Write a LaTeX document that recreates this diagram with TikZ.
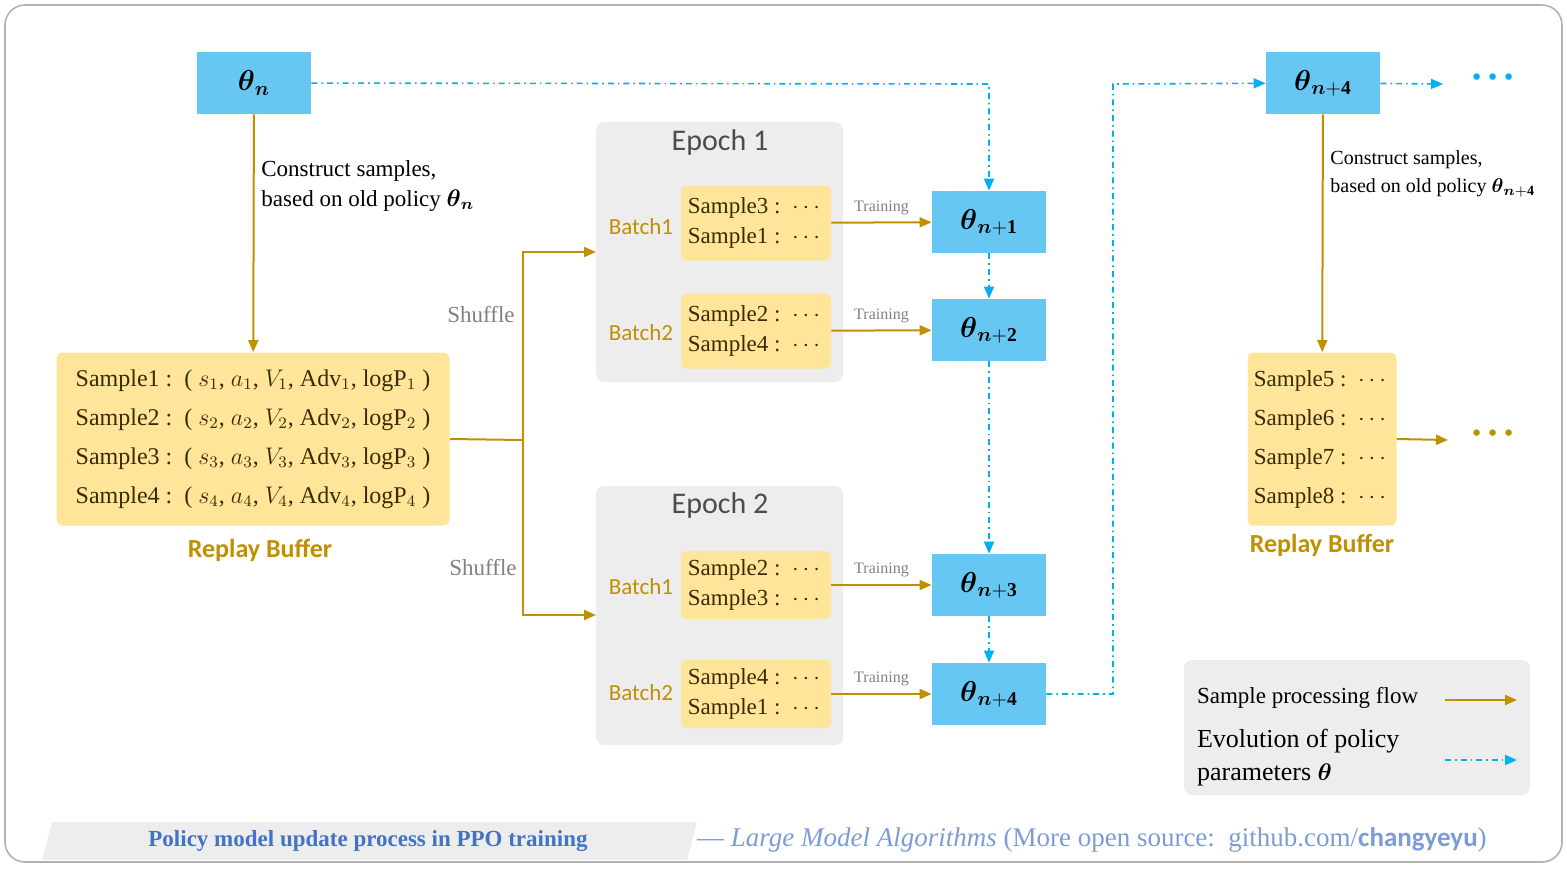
\documentclass[tikz,border=0pt]{standalone}
\usepackage{amsmath}
\usepackage{amssymb}
\usepackage{fontspec}
\setmainfont{Liberation Serif}
\newfontfamily\sansf{Carlito}
\usetikzlibrary{arrows.meta}
\definecolor{thetablue}{RGB}{102,199,242}
\definecolor{flowblue}{RGB}{0,176,240}
\definecolor{bufyellow}{RGB}{255,229,153}
\definecolor{gold}{RGB}{191,144,0}
\definecolor{boxgrey}{RGB}{237,237,237}
\definecolor{linkblue}{RGB}{68,114,196}
\newcommand{\bigdots}{{\boldmath\fontsize{22}{22}\selectfont$\cdot\!\cdot\!\cdot$}}
\begin{document}
\begin{tikzpicture}[%
      x=0.5pt, y=-0.5pt,
      theta/.style={fill=thetablue, inner sep=0pt, minimum width=57pt, minimum height=31pt, font=\fontsize{14}{14}\selectfont},
      samp/.style={fill=bufyellow, rounded corners=3pt, inner sep=0pt},
      epoch/.style={fill=boxgrey, rounded corners=4pt},
      flow/.style={gold, line width=1pt, -{Triangle[length=6pt,width=5pt]}},
      evo/.style={flowblue, line width=0.8pt, dash dot, -{Triangle[length=6pt,width=5pt]}},
      lbl/.style={font=\sansf\fontsize{11.5}{13}\selectfont, text=gold},
      train/.style={font=\fontsize{8}{9}\selectfont, text=gray},
      ]
      \useasboundingbox (0,0) rectangle (1567,868);
      \draw [gray!60, line width=0.8pt, rounded corners=10pt] (5,5) rectangle (1562,862);

      % grey epoch boxes and legend
      \fill [epoch] (596,122) rectangle (843,382);
      \fill [epoch] (596,486) rectangle (843,745);
      \fill [epoch] (1184,660) rectangle (1530,795);
      \node [font=\sansf\fontsize{15}{15}\selectfont, text=black!70] (ep1) at (720,142) {Epoch 1};
      \node [font=\sansf\fontsize{15}{15}\selectfont, text=black!70] (ep2) at (720,505) {Epoch 2};

      % parameter nodes
      \node [theta] (t0) at (254,83) {$\boldsymbol{\theta}_{\boldsymbol{n}}$};
      \node [theta] (t1) at (989,222) {$\boldsymbol{\theta}_{\boldsymbol{n}\mathbf{+1}}$};
      \node [theta] (t2) at (989,330) {$\boldsymbol{\theta}_{\boldsymbol{n}\mathbf{+2}}$};
      \node [theta] (t3) at (989,585) {$\boldsymbol{\theta}_{\boldsymbol{n}\mathbf{+3}}$};
      \node [theta] (t4) at (989,694) {$\boldsymbol{\theta}_{\boldsymbol{n}\mathbf{+4}}$};
      \node [theta] (t5) at (1323,83) {$\boldsymbol{\theta}_{\boldsymbol{n}\mathbf{+4}}$};

      % replay buffers
      \node [samp, minimum width=196.5pt, minimum height=86.5pt, align=left,
             font=\fontsize{12}{19.5}\selectfont, text=black!70!gold] (rb) at (253,439)
        {Sample1 :\ \ ( $s_1$, $a_1$, $V_1$, Adv$_1$, logP$_1$ )\\
         Sample2 :\ \ ( $s_2$, $a_2$, $V_2$, Adv$_2$, logP$_2$ )\\
         Sample3 :\ \ ( $s_3$, $a_3$, $V_3$, Adv$_3$, logP$_3$ )\\
         Sample4 :\ \ ( $s_4$, $a_4$, $V_4$, Adv$_4$, logP$_4$ )};
      \node [lbl, font=\sansf\bfseries\fontsize{13}{13}\selectfont] (rbl) at (260,550) {Replay Buffer};
      \node [samp, minimum width=74.5pt, minimum height=86.5pt, align=left,
             font=\fontsize{11.5}{19.5}\selectfont, text=black!70!gold] (rc) at (1322,439)
        {Sample5 :\ \ $\cdots$\\ Sample6 :\ \ $\cdots$\\ Sample7 :\ \ $\cdots$\\ Sample8 :\ \ $\cdots$};
      \node [lbl, font=\sansf\bfseries\fontsize{13}{13}\selectfont] (rcl) at (1322,545) {Replay Buffer};

      % batches
      \node [samp, minimum width=75pt, minimum height=37.5pt, align=left,
             font=\fontsize{11.5}{15}\selectfont, text=black!70!gold] (b11) at (756,223)
        {Sample3 :\ \ $\cdots$\\ Sample1 :\ \ $\cdots$};
      \node [samp, minimum width=75pt, minimum height=37.5pt, align=left,
             font=\fontsize{11.5}{15}\selectfont, text=black!70!gold] (b12) at (756,331)
        {Sample2 :\ \ $\cdots$\\ Sample4 :\ \ $\cdots$};
      \node [samp, minimum width=75pt, minimum height=34pt, align=left,
             font=\fontsize{11.5}{15}\selectfont, text=black!70!gold] (b21) at (756,585)
        {Sample2 :\ \ $\cdots$\\ Sample3 :\ \ $\cdots$};
      \node [samp, minimum width=75pt, minimum height=34pt, align=left,
             font=\fontsize{11.5}{15}\selectfont, text=black!70!gold] (b22) at (756,694)
        {Sample4 :\ \ $\cdots$\\ Sample1 :\ \ $\cdots$};
      \node [lbl] (bl11) at (641,227) {Batch1};
      \node [lbl] (bl12) at (641,333) {Batch2};
      \node [lbl] (bl21) at (641,587) {Batch1};
      \node [lbl] (bl22) at (641,693) {Batch2};

      % sample processing flow
      \draw [flow] (t0) -- node [right, align=left, text=black, font=\fontsize{11.5}{15}\selectfont, pos=0.3]
        {Construct samples,\\ based on old policy $\boldsymbol{\theta}_{\boldsymbol{n}}$} (rb);
      \coordinate (sp) at (523,440);
      \coordinate (su) at (523,252);
      \coordinate (sd) at (523,615);
      \draw [gold, line width=1pt] (rb.east) -- (sp);
      \draw [flow] (sp) -- (su) -- (596,252);
      \draw [flow] (sp) -- (sd) -- (596,615);
      \node [font=\fontsize{11.5}{13}\selectfont, text=gray] (sh1) at (481,315) {Shuffle};
      \node [font=\fontsize{11.5}{13}\selectfont, text=gray] (sh2) at (483,568) {Shuffle};
      \draw [flow] (b11) -- node [train, above] {Training} (t1);
      \draw [flow] (b12) -- node [train, above] {Training} (t2);
      \draw [flow] (b21) -- node [train, above] {Training} (t3);
      \draw [flow] (b22) -- node [train, above] {Training} (t4);
      \draw [flow] (t5) -- node [right, align=left, text=black, font=\fontsize{10}{14}\selectfont, pos=0.25]
        {Construct samples,\\ based on old policy $\boldsymbol{\theta}_{\boldsymbol{n}\mathbf{+4}}$} (rc);
      \coordinate (rd) at (1448,440);
      \draw [flow] (rc.east) -- (rd);
      \node [text=gold] (dots1) at (1493,434) {\bigdots};

      % evolution of parameters
      \draw [evo] (t0) -- (989,84) -- (t1);
      \draw [evo] (t1) -- (t2);
      \draw [evo] (t2) -- (t3);
      \draw [evo] (t3) -- (t4);
      \draw [evo] (t4) -- (1113,694) -- (1113,84) -- (t5);
      \coordinate (re) at (1443,84);
      \draw [evo] (t5) -- (re);
      \node [text=flowblue] (dots2) at (1493,78) {\bigdots};

      % legend
      \node [anchor=west, font=\fontsize{11.5}{13}\selectfont] (lg1) at (1190,698) {Sample processing flow};
      \node [anchor=west, align=left, font=\fontsize{13}{16.5}\selectfont] (lg2) at (1190,758)
        {Evolution of policy\\ parameters $\boldsymbol{\theta}$};
      \coordinate (l1a) at (1445,700); \coordinate (l1b) at (1517,700);
      \coordinate (l2a) at (1445,760); \coordinate (l2b) at (1517,760);
      \draw [flow] (l1a) -- (l1b);
      \draw [evo] (l2a) -- (l2b);

      % caption banner
      \fill [boxgrey] (52,822) -- (697,822) -- (687,860) -- (42,860) -- cycle;
      \node [text=linkblue, font=\bfseries\fontsize{11.5}{12}\selectfont] (cap) at (368,841)
        {Policy model update process in PPO training};
      \node [anchor=west, text=linkblue!70, font=\fontsize{13.5}{13.5}\selectfont] (src) at (690,840)
        {--- \textit{Large Model Algorithms} (More open source:\ \ github.com/\textbf{\sansf changyeyu})};
      \end{tikzpicture}
\end{document}
